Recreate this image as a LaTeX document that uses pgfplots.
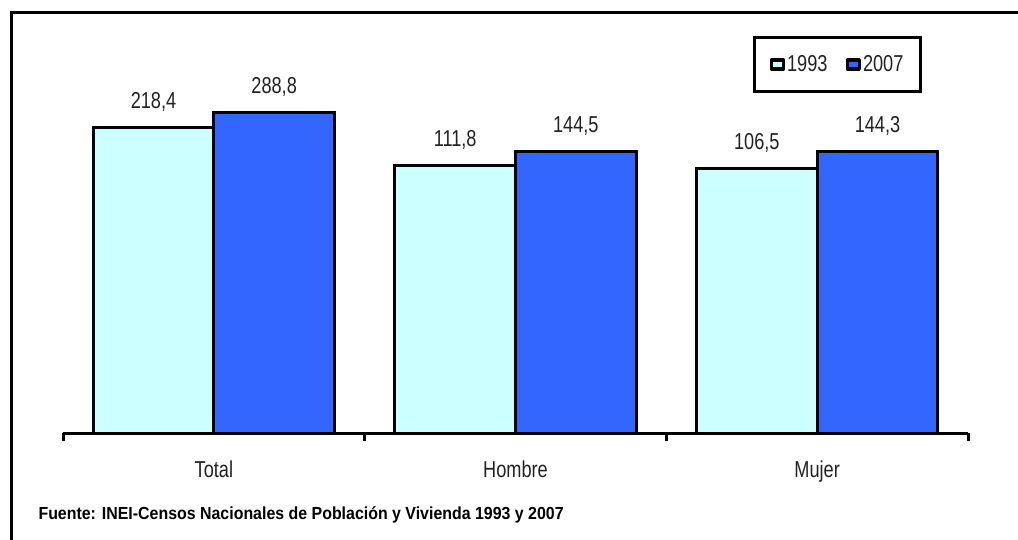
\documentclass[border=0pt]{standalone}
\usepackage{pgfplots}
\pgfplotsset{compat=1.18}
\usepackage{fontspec}
\setmainfont{Liberation Sans}[FakeStretch=0.79]
\newfontfamily\fuente{Liberation Sans}[FakeStretch=0.91]
\definecolor{c93}{HTML}{CCFFFF}
\definecolor{c07}{HTML}{3366FF}
\definecolor{txt}{HTML}{222222}
\begin{document}
\begin{tikzpicture}[x=1bp,y=1bp]
\useasboundingbox (0,0) rectangle (1018,-540);
\draw[line width=3bp] (11,-540) -- (11,-13) -- (1018,-13);
\begin{axis}[
  at={(63bp,-433bp)}, anchor=south west,
  scale only axis, width=905bp, height=391.2bp,
  ymode=log, ymin=1, ymax=1000,
  xmin=-0.5, xmax=2.5,
  clip=false,
  axis y line=none, axis x line*=bottom,
  x axis line style={-, line width=3bp},
  xtick={0,1,2}, xticklabels={Total,Hombre,Mujer},
  major tick length=0pt,
  minor xtick={-0.5,0.5,1.5,2.5}, minor tick length=8bp,
  tick align=outside, minor tick style={line width=3bp, black},
  xticklabel style={font=\fontsize{23bp}{27bp}\selectfont, text=txt, anchor=base, yshift=-44bp},
  ybar, bar width=0.4,
  nodes near coords, point meta=explicit symbolic,
  nodes near coords style={font=\fontsize{23bp}{27bp}\selectfont, text=txt, anchor=base, yshift=19bp},
  legend columns=2,
  legend image code/.code={\draw[#1, line width=3.5bp, line join=round] (0bp,-4.5bp) rectangle (12bp,4.5bp);},
  legend style={at={(0.8558,0.942)}, anchor=center, draw=black, line width=3bp,
    font=\fontsize{23bp}{27bp}\selectfont, text=txt, inner xsep=15bp, inner ysep=16bp,
    nodes={inner xsep=2bp, inner ysep=2bp},
    /tikz/every even column/.append style={column sep=16bp}},
]
\addplot[bar shift=-0.2, fill=c93, draw=black, line width=3bp] table[x=x, y=y, meta=lab] {
x y lab
0 218.4 218,4
1 111.8 111,8
2 106.5 106,5
};
\addplot[bar shift=0.2, fill=c07, draw=black, line width=3bp] table[x=x, y=y, meta=lab] {
x y lab
0 288.8 288,8
1 144.5 144,5
2 144.3 144,3
};
\legend{1993,2007}
\end{axis}
\node[anchor=base west, text=black, font=\fontsize{17.5bp}{21bp}\fuente\bfseries] at (35,-519) {Fuente: INEI-Censos Nacionales de Población y Vivienda 1993 y 2007};
\end{tikzpicture}
\end{document}
